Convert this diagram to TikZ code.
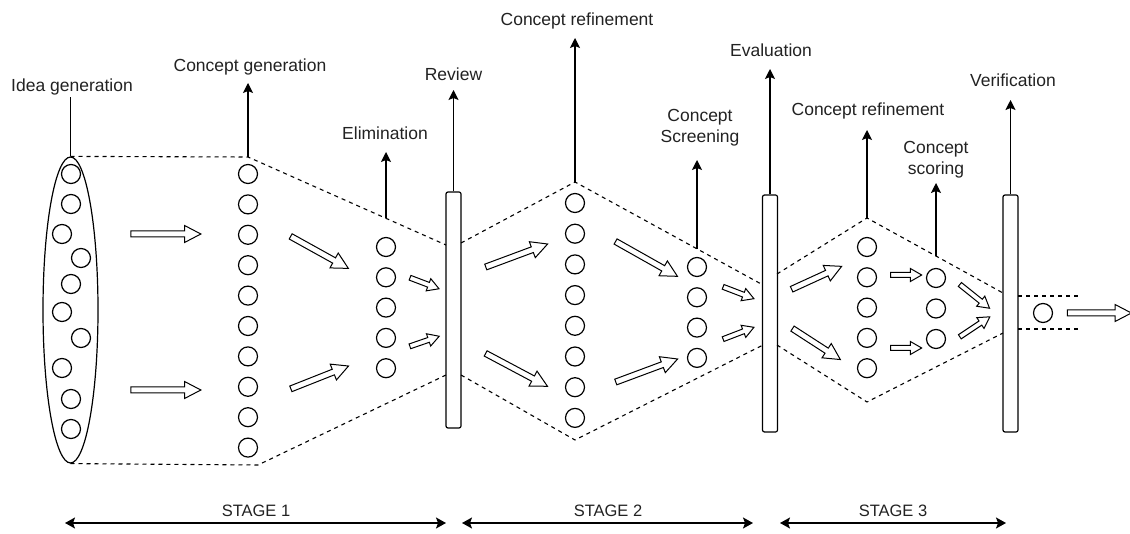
\documentclass[tikz,border=0pt]{standalone}
\usepackage{fontspec}
\setmainfont{Liberation Sans}
\usepackage{tikz}
\usetikzlibrary{shapes.geometric,shapes.arrows,arrows.meta}
\definecolor{labelgray}{HTML}{222222}

\begin{document}
\begin{tikzpicture}[x={(1pt,0)}, y={(0,-1pt)}]
    \tikzstyle{lbl} = [font=\fontsize{17.5}{21}\selectfont, text=labelgray, align=center, inner sep=0, anchor=base];
    \tikzstyle{stagelbl} = [font=\fontsize{16.5}{19}\selectfont, text=labelgray, inner sep=0, anchor=base];
    \tikzstyle{ball} = [circle, draw, line width=1.2, minimum size=19, inner sep=0];
    \tikzstyle{gate} = [draw, line width=1.2, rounded corners=2, minimum width=15, minimum height=237, inner sep=0];
    \tikzstyle{uparrow} = [line width=1.2, -{Stealth[length=10, width=10, inset=2]}];
    \tikzstyle{stagespan} = [line width=1.3, {Stealth[length=10, width=11, inset=2]}-{Stealth[length=10, width=11, inset=2]}];
    \tikzstyle{outline} = [line width=1.1, dash pattern=on 4 off 4];
    \tikzstyle{hollow} = [single arrow, draw, line width=1, inner xsep=0, inner ysep=2.5, single arrow head extend=5.5, single arrow tip angle=55, single arrow head indent=0];
    \tikzstyle{hollowsmall} = [hollow, inner ysep=2, single arrow head extend=4, single arrow tip angle=60];
    \useasboundingbox (0,0) rectangle (1130,534);

    % idea pool
    \node[draw, ellipse, line width=1.2, minimum width=55, minimum height=306, inner sep=0] (pool) at (70.5,310) {};
    \foreach \x/\y [count=\n] in {71/174, 71/204, 62/234, 81/258, 71/284, 62/312, 81/338, 62/368, 71/399, 71/429}
        \node[ball] (idea\n) at (\x,\y) {};

    % columns of concepts
    \foreach \n in {1,...,10} \node[ball] (gen\n) at (248,{174+30.4*(\n-1)}) {};
    \foreach \n in {1,...,5} \node[ball] (elim\n) at (386,{247+30.3*(\n-1)}) {};
    \foreach \n in {1,...,8} \node[ball] (refine\n) at (575,{203+30.7*(\n-1)}) {};
    \foreach \n in {1,...,4} \node[ball] (screen\n) at (697,{267+30.3*(\n-1)}) {};
    \foreach \n in {1,...,5} \node[ball] (refineb\n) at (867,{247+30.3*(\n-1)}) {};
    \foreach \n in {1,...,3} \node[ball] (score\n) at (936,{278+30.5*(\n-1)}) {};
    \node[ball] (final) at (1043,313) {};

    % gates
    \node[gate, minimum height=236] (review) at (453.5,310) {};
    \node[gate] (evaluation) at (770,313.5) {};
    \node[gate] (verification) at (1010.5,313.5) {};

    % funnel corners
    \coordinate (gtop) at (248,157);   \coordinate (gbot) at (258,465);
    \coordinate (etop) at (386,218);
    \coordinate (r1t) at (446,245);    \coordinate (r1b) at (446,375);
    \coordinate (r2t) at (461,243);    \coordinate (r2b) at (461,375);
    \coordinate (ftop) at (575,182);   \coordinate (fbot) at (575,440);
    \coordinate (sctop) at (697,249);
    \coordinate (e1t) at (763,285);    \coordinate (e1b) at (763,345);
    \coordinate (e2t) at (777,274);    \coordinate (e2b) at (777,345);
    \coordinate (ktop) at (867,218);   \coordinate (kbot) at (867,402);
    \coordinate (pttop) at (936,256);
    \coordinate (v1t) at (1003,293);   \coordinate (v1b) at (1003,333);
    \coordinate (v2t) at (1018,296);   \coordinate (v2b) at (1018,329);
    \coordinate (endt) at (1080,296);  \coordinate (endb) at (1080,329);

    \draw[outline] (pool.north) -- (gtop) -- (r1t);
    \draw[outline] (pool.south) -- (gbot) -- (r1b);
    \draw[outline] (r2t) -- (ftop) -- (e1t);
    \draw[outline] (r2b) -- (fbot) -- (e1b);
    \draw[outline] (e2t) -- (ktop) -- (v1t);
    \draw[outline] (e2b) -- (kbot) -- (v1b);
    \draw[outline] (v2t) -- (endt);
    \draw[outline] (v2b) -- (endb);

    % hollow flow arrows
    \foreach \x/\y/\a/\l [count=\n] in {163/234/0/70, 163/390/0/70, 317/251/-29/66, 317/378.5/21.6/62,
        514/256.5/20.4/66, 514/368.5/-28/70, 644/257.5/-29.4/71, 644/371.5/20.4/66,
        814/279/24.6/55, 814/342.5/-32.9/57, 1096.5/313/0/64}
        \node[hollow, minimum height=\l, rotate=\a] (flow\n) at (\x,\y) {};
    \foreach \x/\y/\a/\l [count=\n] in {422.5/282.5/-20.8/31, 422.5/342/19/31, 736.5/292/-21/33, 736.5/334/21/33,
        904/275/0/31, 904/348/0/31, 973/295/-38.7/38, 973/328/33.7/36}
        \node[hollowsmall, minimum height=\l, rotate=\a] (step\n) at (\x,\y) {};

    % labels and their arrows
    \coordinate (ideatip) at (70.5,97);
    \coordinate (gentip) at (248,83);
    \coordinate (elimtip) at (386,152);
    \coordinate (reviewtip) at (453.5,90);
    \coordinate (refinetip) at (575,38);
    \coordinate (screentip) at (697,160);
    \coordinate (evaltip) at (770,69);
    \coordinate (refinebtip) at (867,130);
    \coordinate (scoretip) at (936,183);
    \coordinate (veriftip) at (1010.5,100);

    \draw[line width=1.2] (pool.north) -- (ideatip);
    \draw[uparrow] (gtop) -- (gentip);
    \draw[uparrow] (etop) -- (elimtip);
    \draw[uparrow] (review.north) -- (reviewtip);
    \draw[uparrow] (ftop) -- (refinetip);
    \draw[uparrow] (sctop) -- (screentip);
    \draw[uparrow] (evaluation.north) -- (evaltip);
    \draw[uparrow] (ktop) -- (refinebtip);
    \draw[uparrow] (pttop) -- (scoretip);
    \draw[uparrow] (verification.north) -- (veriftip);

    \node[lbl] (tidea) at (72,92) {Idea generation};
    \node[lbl] (tgen) at (250,72) {Concept generation};
    \node[lbl] (telim) at (385,140) {Elimination};
    \node[lbl] (treview) at (453.5,81) {Review};
    \node[lbl] (trefine) at (577,25.5) {Concept refinement};
    \node[lbl] (tscreen) at (700,143) {Concept\\Screening};
    \node[lbl] (teval) at (771,57) {Evaluation};
    \node[lbl] (trefineb) at (868,116) {Concept refinement};
    \node[lbl] (tscore) at (936,175) {Concept\\scoring};
    \node[lbl] (tverif) at (1013,87) {Verification};

    % stages
    \coordinate (st1a) at (65,523);  \coordinate (st1b) at (446,523);
    \coordinate (st2a) at (462,523); \coordinate (st2b) at (753,523);
    \coordinate (st3a) at (780,523); \coordinate (st3b) at (1006,523);
    \draw[stagespan] (st1a) -- (st1b);
    \draw[stagespan] (st2a) -- (st2b);
    \draw[stagespan] (st3a) -- (st3b);
    \node[stagelbl] (tstage1) at (256,516) {STAGE 1};
    \node[stagelbl] (tstage2) at (608,516) {STAGE 2};
    \node[stagelbl] (tstage3) at (893,516) {STAGE 3};
\end{tikzpicture}
\end{document}
